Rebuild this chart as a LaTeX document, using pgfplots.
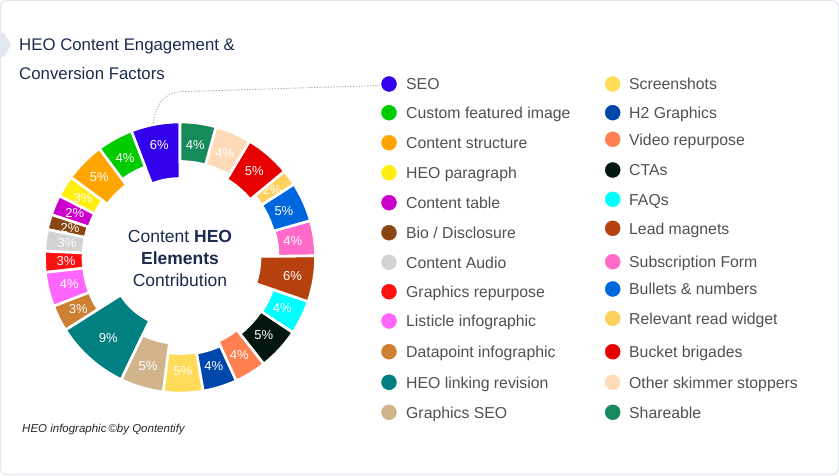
\documentclass[border=0pt]{standalone}
\usepackage{pgfplots}
\pgfplotsset{compat=1.18}
\usepackage{pgfplotstable}
\usepackage{fontspec}
\setmainfont{Liberation Sans}

\definecolor{c0}{HTML}{3300EE}
\definecolor{c1}{HTML}{00CC00}
\definecolor{c2}{HTML}{FFA500}
\definecolor{c3}{HTML}{FFEE10}
\definecolor{c4}{HTML}{CC00CC}
\definecolor{c5}{HTML}{8B4513}
\definecolor{c6}{HTML}{D3D3D3}
\definecolor{c7}{HTML}{FF1010}
\definecolor{c8}{HTML}{FF66FF}
\definecolor{c9}{HTML}{CD7F32}
\definecolor{c10}{HTML}{008080}
\definecolor{c11}{HTML}{D2B48C}
\definecolor{c12}{HTML}{FFDB58}
\definecolor{c13}{HTML}{0047AB}
\definecolor{c14}{HTML}{FF7F50}
\definecolor{c15}{HTML}{03170F}
\definecolor{c16}{HTML}{00FFFF}
\definecolor{c17}{HTML}{B7410E}
\definecolor{c18}{HTML}{FF69C8}
\definecolor{c19}{HTML}{0066DD}
\definecolor{c20}{HTML}{FFCF5F}
\definecolor{c21}{HTML}{E60000}
\definecolor{c22}{HTML}{FFDAB9}
\definecolor{c23}{HTML}{168A5A}
\definecolor{navy}{HTML}{1B2A4E}
\definecolor{legtext}{HTML}{505050}
\definecolor{frame}{HTML}{E3E7EE}

\newcommand\pctfont{\fontsize{13}{15}\selectfont}
\newcommand\legfont{\fontsize{15.8}{18}\selectfont}

% value (share of the ring), shown label, inner radius, label radius
\pgfplotstableread{
val lab rin lr
5.86 6 79 114
4.31 4 97 114
4.78 5 90 114
2.58 3 96 114
2.39 2 96 114
1.81 2 97 114
2.58 3 97 114
2.50 3 97 114
4.11 4 97 114
3.14 3 97 114
8.89 9 70 108
5.19 5 86 113
4.72 5 96 114
4.08 4 97 114
3.81 4 92 114
5.06 5 97 114
4.06 4 98 114
5.50 6 80 114
4.19 4 98 114
4.72 5 97 114
1.89 2 97 114
5.45 5 91 114
4.31 4 96 114
4.28 4 96 114
}\donut

\newcommand\legitem[5]{%
  \addplot[only marks, mark=*, mark size=7.5pt, color=#1] coordinates {(#2,#3)};
  \node[anchor=base west, yshift=-5.75pt, font=\legfont, text=legtext, inner sep=0pt] at (axis cs:#4,#3) {#5};
}

\begin{document}
\begin{tikzpicture}
\pgfplotstablegetrowsof{\donut}
\pgfmathtruncatemacro\N{\pgfplotsretval-1}
\def\tot{0}
\pgfplotsforeachungrouped \i in {0,...,\N}{%
  \pgfplotstablegetelem{\i}{val}\of\donut
  \pgfmathsetmacro\tot{\tot+\pgfplotsretval}%
}
\pgfmathsetmacro\k{360/\tot}
\def\cum{0}
\gdef\segs{}
\pgfplotsforeachungrouped \i in {0,...,\N}{%
  \pgfplotstablegetelem{\i}{val}\of\donut \let\v\pgfplotsretval
  \pgfplotstablegetelem{\i}{lab}\of\donut \let\lab\pgfplotsretval
  \pgfplotstablegetelem{\i}{rin}\of\donut \let\rin\pgfplotsretval
  \pgfplotstablegetelem{\i}{lr}\of\donut \let\lr\pgfplotsretval
  \pgfmathsetmacro\aS{90+\cum*\k}%
  \pgfmathsetmacro\cum{\cum+\v}%
  \pgfmathsetmacro\aE{90+\cum*\k}%
  \pgfmathsetmacro\aM{(\aS+\aE)/2}%
  \xdef\segs{\unexpanded\expandafter{\segs}%
    \noexpand\filldraw[fill=c\i, draw=white, line width=2.6pt, line join=miter] ([shift={(\aS:135.5pt)}]axis cs:180,217.5) arc[start angle=\aS, end angle=\aE, radius=135.5pt] -- ([shift={(\aE:\rin pt)}]axis cs:180,217.5) arc[start angle=\aE, end angle=\aS, radius=\rin pt] -- cycle;
    \noexpand\node[text=white, font=\noexpand\pctfont, inner sep=0pt] at ([shift={(\aM:\lr pt)}]axis cs:180,217.5) {\lab\noexpand\%};
  }%
}
\begin{axis}[x=1pt, y=1pt, xmin=0, xmax=839, ymin=0, ymax=475,
  hide axis, clip=false, anchor=origin, at={(0,0)}]
  % frame
  \draw[frame, line width=1.2pt, rounded corners=6pt] (axis cs:0.6,0.6) rectangle (axis cs:838.4,474.4);
  \fill[frame] (axis cs:0,442) -- (axis cs:4,442) -- (axis cs:11,430) -- (axis cs:4,418) -- (axis cs:0,418) -- cycle;
  % title
  \node[anchor=base west, font=\fontsize{16.8}{20}\selectfont, text=navy, inner sep=0pt] at (axis cs:19,424) {HEO Content Engagement \&};
  \node[anchor=base west, font=\fontsize{16.8}{20}\selectfont, text=navy, inner sep=0pt] at (axis cs:19,395) {Conversion Factors};
  % donut
  \segs
  % centre text
  \node[anchor=base, font=\fontsize{17.5}{20}\selectfont, text=navy, inner sep=0pt] at (axis cs:180,232.3) {Content \textbf{HEO}};
  \node[anchor=base, font=\fontsize{17.5}{20}\selectfont, text=navy, inner sep=0pt] at (axis cs:180,211) {\textbf{Elements}};
  \node[anchor=base, font=\fontsize{17.5}{20}\selectfont, text=navy, inner sep=0pt] at (axis cs:180,188.3) {Contribution};
  % connector
  \draw[gray!70, line width=0.9pt, dash pattern=on 1.2pt off 1.6pt] (axis cs:153.3,351.7) .. controls (axis cs:156,372) and (axis cs:165,383.5) .. (axis cs:185,383.5) -- (axis cs:380,389.5);
  % legend, left column
  \legitem{c0}{389}{391}{406}{SEO}
  \legitem{c1}{389}{362.3}{406}{Custom featured image}
  \legitem{c2}{389}{332.3}{406}{Content structure}
  \legitem{c3}{389}{302.3}{406}{HEO paragraph}
  \legitem{c4}{389}{272.3}{406}{Content table}
  \legitem{c5}{389}{242.3}{406}{Bio / Disclosure}
  \legitem{c6}{389}{212.7}{406}{Content Audio}
  \legitem{c7}{389}{183.3}{406}{Graphics repurpose}
  \legitem{c8}{389}{154}{406}{Listicle infographic}
  \legitem{c9}{389}{123.3}{406}{Datapoint infographic}
  \legitem{c10}{389}{92.7}{406}{HEO linking revision}
  \legitem{c11}{389}{62.7}{406}{Graphics SEO}
  % legend, right column
  \legitem{c12}{612.7}{391}{629}{Screenshots}
  \legitem{c13}{612.7}{362.3}{629}{H2 Graphics}
  \legitem{c14}{612.7}{335.7}{629}{Video repurpose}
  \legitem{c15}{612.7}{305}{629}{CTAs}
  \legitem{c16}{612.7}{275.7}{629}{FAQs}
  \legitem{c17}{612.7}{246.7}{629}{Lead magnets}
  \legitem{c18}{612.7}{213.3}{629}{Subscription Form}
  \legitem{c19}{612.7}{186}{629}{Bullets \& numbers}
  \legitem{c20}{612.7}{156.7}{629}{Relevant read widget}
  \legitem{c21}{612.7}{123.3}{629}{Bucket brigades}
  \legitem{c22}{612.7}{92.7}{629}{Other skimmer stoppers}
  \legitem{c23}{612.7}{62.7}{629}{Shareable}
  % footer
  \node[anchor=base west, font=\fontsize{11.5}{14}\selectfont\itshape, text=black!85, inner sep=0pt] at (axis cs:22,42.7) {HEO infographic\,©by Qontentify};
\end{axis}
\pgfresetboundingbox
\path (0,0) rectangle (839pt,475pt);
\end{tikzpicture}
\end{document}
